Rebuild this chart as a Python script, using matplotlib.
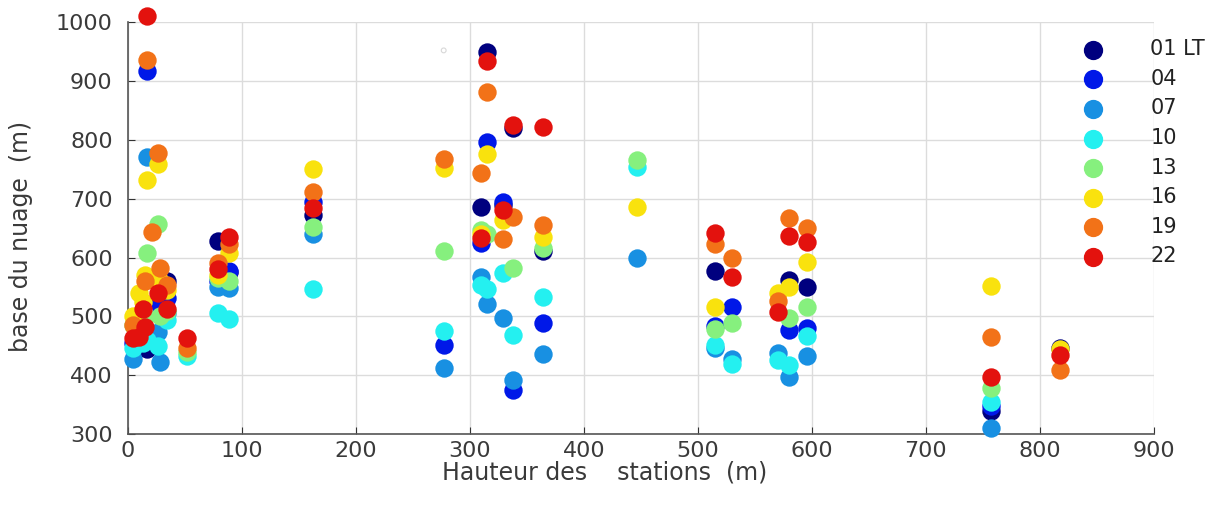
import numpy as np
import matplotlib
matplotlib.use("Agg")
import matplotlib.pyplot as plt

n = np.nan

# station heights (m)
stations = [4, 10, 13, 15, 17, 21, 26, 28, 34, 52, 79, 89, 162, 277, 310, 315,
            329, 338, 364, 447, 515, 530, 570, 580, 596, 757, 818]

# cloud base (m) per local time
h01 = [n, n, n, n, 445, n, n, 530, 560, n, 628, 575, 672, n, 686, 949, 690, 820,
       612, n, 577, n, n, 562, 550, 340, 447]
h04 = [455, n, n, n, 917, n, n, 520, 531, n, 560, 578, 695, 452, 625, 796, 694,
       375, 489, n, 483, 516, n, 477, 480, 347, n]
h07 = [428, n, n, n, 771, n, 474, 423, 505, n, 550, 548, 640, 412, 567, 521, 497,
       392, 436, 599, 447, 428, 438, 397, 433, 311, n]
h10 = [447, n, 455, n, 460, n, 450, n, 494, 433, 506, 496, 547, 475, 553, 546, 574,
       469, 533, 754, 452, 420, 426, 418, 467, 355, n]
h13 = [485, n, n, 500, 608, n, 657, 500, 510, 440, 565, 560, 652, 611, 647, 640, n,
       582, 616, 766, 479, 489, n, 497, 516, 379, n]
h16 = [500, 540, 525, 570, 732, n, 759, 560, 545, n, 570, 608, 750, 752, 640, 776,
       664, n, 635, 686, 516, n, 540, 550, 593, 552, 445]
h19 = [485, n, n, 560, 935, 644, 778, 582, 553, 446, 590, 623, 712, 767, 744, 881,
       631, 669, 655, n, 623, 599, 526, 668, 650, 465, 409]
h22 = [463, 465, 513, 482, 1010, n, 540, n, 513, 463, 580, 635, 685, n, 633, 934,
       681, 825, 822, n, 642, 567, 507, 636, 627, 397, 435]

series = [h01, h04, h07, h10, h13, h16, h19, h22]
labels = ["01 LT", "04", "07", "10", "13", "16", "19", "22"]
colors = ["#00007f", "#0018e8", "#1890e2", "#24f0f0", "#86f07e", "#f9e20e",
          "#f27218", "#e3120e"]

# faint stray marker visible in the original
ghost_x = [277]
ghost_y = [952]

TEXT = "#3a3a3a"

fig = plt.figure(figsize=(12.27, 5.15), dpi=100)
ax = fig.add_axes([0.1043, 0.157, 0.836, 0.800])

for vals, lab, col in zip(series, labels, colors):
    ax.scatter(stations, vals, s=175, color=col, label=lab, linewidths=0,
               clip_on=False, zorder=3)

ax.scatter(ghost_x, ghost_y, s=12, facecolors="none", edgecolors="#d8d8d8",
           linewidths=0.8, zorder=2)

ax.set_xlim(0, 900)
ax.set_ylim(300, 1000)
ax.set_xticks(range(0, 901, 100))
ax.set_yticks(range(300, 1001, 100))
ax.grid(True, color="#dcdcdc", linewidth=1)
ax.set_axisbelow(True)
for side in ("top", "right"):
    ax.spines[side].set_visible(False)
for side in ("left", "bottom"):
    ax.spines[side].set_color("#555555")
    ax.spines[side].set_linewidth(1.2)
ax.tick_params(direction="in", length=5, color="#333333", labelsize=16,
               labelcolor=TEXT)
ax.tick_params(axis="y", pad=11)
ax.tick_params(axis="x", pad=5)

ax.set_xlabel("Hauteur des    stations  (m)", fontsize=17, color=TEXT)
ax.xaxis.set_label_coords(0.465, -0.065)
ax.set_ylabel("base du nuage  (m)", fontsize=17, color=TEXT)
ax.yaxis.set_label_coords(-0.093, 0.48)

ax.legend(loc="upper left", bbox_to_anchor=(0.867, 0.94),
          bbox_transform=fig.transFigure, frameon=False, fontsize=15,
          labelspacing=0.46, handletextpad=1.75, borderaxespad=0,
          scatterpoints=1, markerscale=1.05, labelcolor="#222222")

fig.savefig("out.png", dpi=100)
